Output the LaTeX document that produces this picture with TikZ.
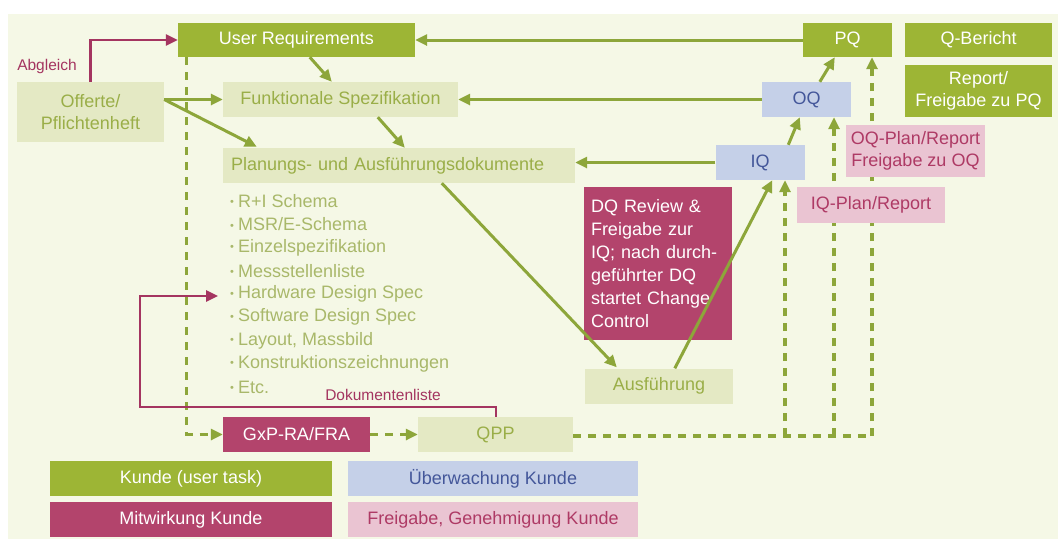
\documentclass[tikz,border=0pt]{standalone}
\usepackage{fontspec}
\setmainfont{Liberation Sans}
\usetikzlibrary{arrows.meta,calc}
\definecolor{bgc}{HTML}{F5F8E6}
\definecolor{dgreen}{HTML}{9DB535}
\definecolor{lgreen}{HTML}{E4E9C4}
\definecolor{lgtext}{HTML}{9AAE48}
\definecolor{bluebox}{HTML}{C5D0E8}
\definecolor{bluetext}{HTML}{44579A}
\definecolor{magbox}{HTML}{B3446C}
\definecolor{pinkbox}{HTML}{EAC4D2}
\definecolor{pinktext}{HTML}{AE3A65}
\definecolor{arrgreen}{HTML}{8DA63A}
\definecolor{magline}{HTML}{A43560}
\definecolor{bultext}{HTML}{A9B86A}
\tikzset{
  kbox/.style={inner sep=0pt, align=center, font=\fontsize{18}{22}\selectfont},
  gbox/.style={kbox, fill=dgreen, text=white},
  lbox/.style={kbox, fill=lgreen, text=lgtext},
  bbox/.style={kbox, fill=bluebox, text=bluetext},
  mbox/.style={kbox, fill=magbox, text=white},
  pbox/.style={kbox, fill=pinkbox, text=pinktext},
  garr/.style={draw=arrgreen, line width=3pt, -{Triangle[length=12pt,width=11pt]}},
  gdash/.style={draw=arrgreen, line width=3.2pt, dash pattern=on 8pt off 7pt},
  gdasharr/.style={gdash, -{Triangle[length=12pt,width=11pt]}},
  marr/.style={draw=magline, line width=2.6pt, -{Triangle[length=12pt,width=11pt]}},
  mlabel/.style={text=magline, font=\fontsize{15.5}{18}\selectfont, inner sep=0pt},
  bul/.style={anchor=west, inner sep=0pt, text=bultext, font=\fontsize{18}{22}\selectfont},
}
\begin{document}
\begin{tikzpicture}[x=1pt,y=-1pt]
\useasboundingbox (0,0) rectangle (1058,539);
\fill[white] (0,0) rectangle (1058,539);
\fill[bgc] (8,14) rectangle (1058,539);

% boxes
\node[gbox, minimum width=237pt, minimum height=34pt] (ur) at (296.5,40) {User Requirements};
\node[gbox, minimum width=89pt, minimum height=34pt] (pq) at (847.5,40) {PQ};
\node[gbox, minimum width=147pt, minimum height=34pt] (qb) at (978.5,40) {Q-Bericht};
\node[gbox, minimum width=147pt, minimum height=52pt] (rep) at (978.5,91) {Report/\\Freigabe zu PQ};
\node[lbox, minimum width=147pt, minimum height=60pt] (off) at (90.5,112) {Offerte/\\Pflichtenheft};
\node[lbox, minimum width=235pt, minimum height=35pt] (funk) at (340.5,99.5) {Funktionale Spezifikation};
\node[bbox, minimum width=89pt, minimum height=35pt] (oq) at (806.5,99.5) {OQ};
\node[lbox, minimum width=352pt, minimum height=35pt, text width=336pt, align=left] (plan) at (399,165.5) {Planungs- und Ausführungsdokumente};
\node[bbox, minimum width=89pt, minimum height=35pt] (iq) at (760,162.5) {IQ};
\node[lbox, minimum width=148pt, minimum height=35pt] (ausf) at (659,386) {Ausführung};
\node[mbox, minimum width=147pt, minimum height=35pt] (gxp) at (296.5,434.5) {GxP-RA/FRA};
\node[lbox, minimum width=155pt, minimum height=35pt] (qpp) at (495.5,434.5) {QPP};

% dashed connectors (drawn before pink boxes so boxes cover them)
\coordinate (c1) at (785,436);
\coordinate (c2) at (834,436);
\coordinate (c3) at (872,436);
\draw[gdasharr] ($(ur.south west)+(9,0)$) |- (gxp.west);
\draw[gdasharr] (gxp.east) -- (qpp.west);
\draw[gdash] (qpp.east |- c1) -- (c3);
\draw[gdasharr] (c1) -- (c1 |- iq.south);
\draw[gdasharr] (c2) -- (c2 |- oq.south);
\draw[gdasharr] (c3) -- (c3 |- pq.south);

\node[pbox, minimum width=139pt, minimum height=52pt] (oqp) at (915.5,151) {OQ-Plan/Report\\Freigabe zu OQ};
\node[pbox, minimum width=148pt, minimum height=36pt] (iqp) at (871,205) {IQ-Plan/Report};

\node[mbox, minimum width=148pt, minimum height=153pt, text width=134pt, align=left,
      font=\fontsize{18}{23}\selectfont] (dq) at (658,263.5)
  {DQ Review \&\\Freigabe zur\\IQ; nach durch-\\geführter DQ\\startet Change\\Control};

% bullet list
\foreach \t [count=\i] in {R+I Schema, MSR/E-Schema, Einzelspezifikation, Messstellenliste,
  Hardware Design Spec, Software Design Spec, {Layout, Massbild}, Konstruktionszeichnungen, Etc.}
  \node[bul] (b\i) at (230,{201+23.25*(\i-1)}) {{\fontsize{11}{12}\selectfont\raisebox{1.5pt}{•}}\hspace{4pt}\t};

% legend
\node[gbox, minimum width=282pt, minimum height=35pt] (l1) at (191,478.5) {Kunde (user task)};
\node[mbox, minimum width=282pt, minimum height=35pt] (l2) at (191,519.5) {Mitwirkung Kunde};
\node[bbox, minimum width=290pt, minimum height=35pt] (l3) at (493,478.5) {Überwachung Kunde};
\node[pbox, minimum width=290pt, minimum height=35pt] (l4) at (493,519.5) {Freigabe, Genehmigung Kunde};

% green arrows
\draw[garr] (pq.west) -- (ur.east);
\draw[garr] (oq.west) -- (funk.east);
\draw[garr] (iq.west) -- (iq.west -| plan.east);
\coordinate (offout) at (off.east |- funk.west);
\draw[garr] (offout) -- (funk.west);
\draw[garr] (offout) -- ($(plan.north west)+(34,-1)$);
\draw[garr] ($(ur.south west)+(132,0)$) -- ($(funk.north west)+(109,0)$);
\draw[garr] ($(funk.south west)+(155,0)$) -- ($(plan.north west)+(182,0)$);
\draw[garr] ($(plan.south west)+(219,0)$) -- ($(ausf.north west)+(32,-1)$);
\draw[garr] ($(ausf.north west)+(90,0)$) -- ($(iq.south west)+(57,0)$);
\draw[garr] ($(iq.north west)+(73,0)$) -- ($(oq.south west)+(38,0)$);
\draw[garr] ($(oq.north west)+(58,0)$) -- ($(pq.south west)+(32,0)$);

% magenta connectors
\draw[marr] (off.north) |- (ur.west);
\node[mlabel] (abg) at (47,66) {Abgleich};
\coordinate (dcorner) at (140,407);
\coordinate (dtip) at (218,296);
\draw[marr] ($(qpp.north west)+(78,0)$) |- (dcorner) |- (dtip);
\node[mlabel] (dok) at (383,395) {Dokumentenliste};
\end{tikzpicture}
\end{document}
